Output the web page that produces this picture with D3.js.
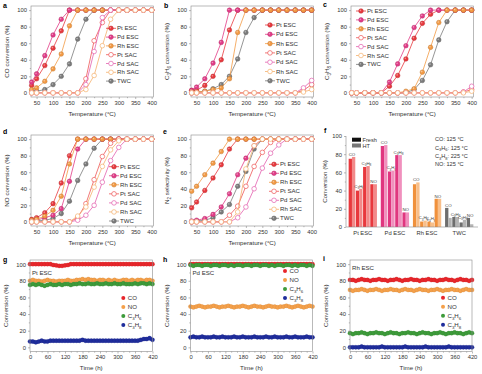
<!DOCTYPE html>
<html>
<head>
<meta charset="utf-8">
<script src="https://cdn.jsdelivr.net/npm/d3@7"></script>
<style>
body { margin: 0; background: #fff; }
svg { display: block; font-family: "Liberation Sans", Arial, sans-serif; }
</style>
</head>
<body>
<svg id="fig" width="482" height="374"></svg>
<script>
// light-off curves, temperature (°C)
var temps = [35, 50, 75, 100, 125, 150, 175, 200, 225, 250, 275, 300, 325, 350, 375, 400];

// a: CO conversion
var coPtESC  = [9, 17, 33, 54, 75, 100, 100, 100, 100, 100, 100, 100, 100, 100, 100, 100];
var coPdESC  = [13, 23, 45, 70, 89, 100, 100, 100, 100, 100, 100, 100, 100, 100, 100, 100];
var coRhESC  = [4, 6, 14, 29, 47, 81, 100, 100, 100, 100, 100, 100, 100, 100, 100, 100];
var coPtSAC  = [0, 0, 0, 0, 0, 0, 0, 17, 63, 85, 100, 100, 100, 100, 100, 100];
var coPdSAC  = [0, 0, 0, 0, 0, 0, 0, 10, 50, 91, 100, 100, 100, 100, 100, 100];
var coRhSAC  = [0, 0, 0, 0, 0, 0, 0, 4, 21, 57, 89, 100, 100, 100, 100, 100];
var coTWC    = [1, 2, 4, 10, 20, 35, 65, 89, 100, 100, 100, 100, 100, 100, 100, 100];

// b: C3H6 conversion
var c3h6PtESC = [3, 3, 9, 20, 40, 76, 100, 100, 100, 100, 100, 100, 100, 100, 100, 100];
var c3h6PdESC = [3, 7, 17, 36, 61, 100, 100, 100, 100, 100, 100, 100, 100, 100, 100, 100];
var c3h6RhESC = [1, 1, 2, 4, 6, 17, 73, 100, 100, 100, 100, 100, 100, 100, 100, 100];
var c3h6PtSAC = [0, 0, 0, 0, 0, 0, 0, 0, 0, 0, 0, 0, 0, 0, 3, 10];
var c3h6PdSAC = [0, 0, 0, 0, 0, 0, 0, 0, 0, 0, 0, 0, 0, 0, 6, 15];
var c3h6RhSAC = [0, 0, 0, 0, 0, 0, 0, 0, 0, 0, 0, 0, 0, 0, 1, 4];
var c3h6TWC   = [0, 1, 2, 5, 10, 20, 41, 73, 91, 100, 100, 100, 100, 100, 100, 100];

// c: C3H8 conversion
var c3h8PtESC = [0, 0, 0, 0, 0, 8, 21, 41, 66, 84, 95, 100, 100, 100, 100, 100];
var c3h8PdESC = [0, 0, 0, 0, 0, 13, 35, 57, 79, 93, 100, 100, 100, 100, 100, 100];
var c3h8RhESC = [0, 0, 0, 0, 0, 0, 0, 2, 5, 25, 55, 85, 100, 100, 100, 100];
var c3h8PtSAC = [0, 0, 0, 0, 0, 0, 0, 0, 0, 0, 0, 0, 0, 0, 1, 4];
var c3h8PdSAC = [0, 0, 0, 0, 0, 0, 0, 0, 0, 0, 0, 0, 0, 0, 1, 8];
var c3h8RhSAC = [0, 0, 0, 0, 0, 0, 0, 0, 0, 0, 0, 0, 0, 0, 0, 2];
var c3h8TWC   = [0, 0, 0, 0, 0, 0, 0, 0, 4, 15, 34, 64, 86, 100, 100, 100];

// d: NO conversion
var noPtESC = [3, 5, 11, 22, 47, 80, 100, 100, 100, 100, 100, 100, 100, 100, 100, 100];
var noPdESC = [1, 2, 5, 8, 16, 49, 88, 100, 100, 100, 100, 100, 100, 100, 100, 100];
var noRhESC = [2, 3, 7, 14, 31, 70, 100, 100, 100, 100, 100, 100, 100, 100, 100, 100];
var noPtSAC = [0, 0, 0, 0, 0, 0, 5, 22, 51, 79, 95, 100, 100, 100, 100, 100];
var noPdSAC = [0, 0, 0, 0, 0, 0, 2, 8, 20, 48, 74, 90, 100, 100, 100, 100];
var noRhSAC = [0, 0, 0, 0, 0, 0, 7, 18, 42, 67, 87, 98, 100, 100, 100, 100];
var noTWC   = [0, 1, 2, 4, 10, 25, 50, 70, 89, 100, 100, 100, 100, 100, 100, 100];

// e: N2 selectivity
var n2PtESC = [17, 24, 38, 53, 69, 88, 100, 100, 100, 100, 100, 100, 100, 100, 100, 100];
var n2PdESC = [1, 2, 4, 9, 18, 34, 57, 77, 92, 100, 100, 100, 100, 100, 100, 100];
var n2RhESC = [37, 43, 57, 71, 85, 100, 100, 100, 100, 100, 100, 100, 100, 100, 100, 100];
var n2PtSAC = [0, 0, 0, 0, 0, 8, 19, 43, 67, 84, 96, 100, 100, 100, 100, 100];
var n2PdSAC = [0, 0, 0, 0, 0, 0, 5, 18, 40, 65, 83, 93, 100, 100, 100, 100];
var n2RhSAC = [0, 0, 0, 0, 0, 0, 12, 64, 92, 100, 100, 100, 100, 100, 100, 100];
var n2TWC   = [0, 1, 2, 5, 12, 21, 43, 61, 88, 100, 100, 100, 100, 100, 100, 100];

// f: fresh vs hydrothermally treated
var catalysts = ["Pt ESC", "Pd ESC", "Rh ESC", "TWC"];
var gases = ["CO", "C_3H_6", "C_3H_8", "NO"];
var fresh = [[75, 40, 66, 47], [89, 61, 79, 16], [47, 6, 6, 31], [21, 11, 5, 10]];
var aged  = [[77, 42, 67, 47], [90, 62, 79, 16], [49, 7, 5, 31], [10, 11, 8, 3]];
var conditions = ["CO: 125 °C", "C_3H_6: 125 °C", "C_3H_8: 225 °C", "NO: 125 °C"];

// g-i: stability runs, time (h)
var hours = [0, 10, 20, 30, 40, 50, 60, 70, 80, 90, 100, 110, 120, 130, 140, 150, 160, 170, 180, 190, 200,
  210, 220, 230, 240, 250, 260, 270, 280, 290, 300, 310, 320, 330, 340, 350, 360, 370, 380, 390, 400, 410, 420];

var gCO   = [100,100,100,100,100,100,100,100,99,98.5, 98,98,98.5,99,100,100,100,100,100,100, 100,100,100,100,100,100,100,100,100,100, 100,100,100,100,100,100,100,100,100,100, 100,100,100];
var gNO   = [80,81,80,80,79,80,81,80,80,79, 80,80,80,81,80,80,81,81,82,81, 82,81,81,80,81,81,80,81,80,81, 80,80,81,81,80,81,80,81,81,80, 81,81,80];
var gC3H6 = [75,76,75,76,75,74,75,76,75,75, 76,75,76,76,75,76,76,77,76,76, 77,76,76,77,76,76,77,76,76,77, 76,76,77,76,76,76,77,76,77,77, 76,77,76];
var gC3H8 = [7,7,6,7,8,7,7,8,8,8, 8,8,8,8,8,8,8,8,9,8, 8,8,8,8,8,8,8,8,8,8, 8,8,8,8,8,8,8,8,9,10, 10,11,9];

var hCO   = [100,100,100,100,100,100,100,100,100,100, 100,100,100,100,100,100,100,100,100,100, 100,100,100,100,100,100,100,100,100,100, 100,100,100,100,100,100,100,100,100,100, 100,100,100];
var hNO   = [49,48,49,50,49,48,49,49,50,49, 48,49,49,50,49,48,49,49,50,49, 48,49,50,49,49,48,49,50,49,49, 48,49,49,50,49,48,49,50,49,48, 49,50,49];
var hC3H6 = [99,98,99,99,98,99,99,98,99,99, 98,99,99,98,99,98,99,99,98,99, 99,98,99,99,98,99,99,98,99,98, 99,99,98,99,99,98,99,98,99,99, 98,99,98];
var hC3H8 = [12,13,12,12,13,12,12,12,13,12, 12,13,12,12,12,13,12,12,13,12, 12,12,13,12,12,12,13,12,12,13, 12,12,12,13,12,12,13,12,12,12, 13,12,12];

var iCO   = [81,81,80,81,82,81,81,80,81,81, 82,81,81,80,81,81,82,81,80,81, 81,82,81,81,80,81,81,82,81,81, 80,81,81,82,81,81,80,81,82,81, 81,80,81];
var iNO   = [69,68,69,69,70,69,68,69,69,70, 69,68,69,69,70,69,69,68,69,70, 69,69,68,69,70,69,69,68,69,69, 70,69,68,69,69,70,69,69,68,69, 70,69,69];
var iC3H6 = [17,16,17,17,18,17,16,17,17,18, 17,17,16,17,18,17,17,16,17,17, 18,17,17,16,17,18,17,17,16,17, 17,18,17,16,17,17,18,17,17,16, 17,18,17];
var iC3H8 = [0,0,0,0,1,0,0,0,0,0, 0,1,0,0,0,0,0,0,0,1, 0,0,0,0,0,0,1,0,0,0, 0,0,0,0,1,0,0,0,0,0, 0,0,0];

var svg = d3.select("#fig");
var fs = 5.8;
var axisGrey = "#8a8a8a";

var colors = {"Pt ESC": "#e8383d", "Pd ESC": "#e23b87", "Rh ESC": "#f39a44",
  "Pt SAC": "#ee5656", "Pd SAC": "#e35fae", "Rh SAC": "#f5b06c", "TWC": "#7b7b7b"};
var legendOrder = ["Pt ESC", "Pd ESC", "Rh ESC", "Pt SAC", "Pd SAC", "Rh SAC", "TWC"];
var drawOrder = ["TWC", "Pt ESC", "Pd ESC", "Rh ESC", "Pt SAC", "Pd SAC", "Rh SAC"];

// "_x" -> subscript x
function rich(text, s, size) {
  var down = false;
  s.split(/(_.)/).forEach(function(pt) {
    if (!pt) return;
    var sub = pt[0] === "_";
    var t = text.append("tspan").text(sub ? pt[1] : pt);
    if (sub) {
      t.attr("font-size", size * 0.72);
      if (!down) { t.attr("dy", size * 0.3); down = true; }
    } else if (down) { t.attr("dy", -size * 0.3); down = false; }
  });
  return text;
}

function styleAxis(ax) {
  ax.select(".domain").remove();
  ax.selectAll(".tick line").attr("stroke", axisGrey).attr("stroke-width", 0.6);
  ax.selectAll(".tick text").attr("font-size", fs).attr("fill", "#333").attr("font-family", null);
}

function marker(g, cx, cy, name, r) {
  var c = colors[name];
  if (name.indexOf("SAC") >= 0) {
    g.append("circle").attr("cx", cx).attr("cy", cy).attr("r", r)
      .attr("fill", "#fff").attr("stroke", c).attr("stroke-width", 0.7);
  } else {
    g.append("circle").attr("cx", cx).attr("cy", cy).attr("r", r)
      .attr("fill", c).attr("stroke", d3.color(c).darker(0.6)).attr("stroke-width", 0.5);
    g.append("circle").attr("cx", cx - 0.6).attr("cy", cy - 0.6).attr("r", r * 0.35)
      .attr("fill", "#fff").attr("opacity", 0.45);
  }
}

function frame(g, px, py) {
  g.append("rect").attr("x", px[0]).attr("y", py[0])
    .attr("width", px[1] - px[0]).attr("height", py[1] - py[0])
    .attr("fill", "none").attr("stroke", axisGrey).attr("stroke-width", 0.6);
}

function yAxes(g, y, x0) {
  var ya = g.append("g").attr("transform", "translate(" + x0 + ",0)")
    .call(d3.axisLeft(y).tickValues([0, 20, 40, 60, 80, 100]).tickSize(2).tickPadding(2));
  styleAxis(ya);
  var ym = g.append("g").attr("transform", "translate(" + x0 + ",0)")
    .call(d3.axisLeft(y).tickValues([10, 30, 50, 70, 90]).tickSize(1.2).tickFormat(""));
  styleAxis(ym);
}

function ylabel(g, x, yc, s) {
  rich(g.append("text").attr("transform", "translate(" + x + "," + yc + ") rotate(-90)")
    .attr("text-anchor", "middle").attr("font-size", 6.2).attr("fill", "#333"), s, 6.2);
}

function letter(g, x, y, s) {
  g.append("text").attr("x", x).attr("y", y).attr("font-size", 7).attr("font-weight", "bold").text(s);
}

var curvePanels = [
  {id: "a", px: [31, 153.3], py: [6, 97], lx: 3, ly: 8, ylab: "CO conversion (%)",
   data: {"Pt ESC": coPtESC, "Pd ESC": coPdESC, "Rh ESC": coRhESC, "Pt SAC": coPtSAC, "Pd SAC": coPdSAC, "Rh SAC": coRhSAC, "TWC": coTWC},
   leg: [111, 28.3, 8.8]},
  {id: "b", px: [191, 313.3], py: [6, 97], lx: 164, ly: 8, ylab: "C_3H_6 conversion (%)",
   data: {"Pt ESC": c3h6PtESC, "Pd ESC": c3h6PdESC, "Rh ESC": c3h6RhESC, "Pt SAC": c3h6PtSAC, "Pd SAC": c3h6PdSAC, "Rh SAC": c3h6RhSAC, "TWC": c3h6TWC},
   leg: [270, 25, 9.3]},
  {id: "c", px: [351, 473.3], py: [6, 97], lx: 323, ly: 7, ylab: "C_3H_8 conversion (%)",
   data: {"Pt ESC": c3h8PtESC, "Pd ESC": c3h8PdESC, "Rh ESC": c3h8RhESC, "Pt SAC": c3h8PtSAC, "Pd SAC": c3h8PdSAC, "Rh SAC": c3h8RhSAC, "TWC": c3h8TWC},
   leg: [361, 11, 8.9]},
  {id: "d", px: [31, 153.3], py: [135, 226], lx: 3, ly: 133.5, ylab: "NO conversion (%)",
   data: {"Pt ESC": noPtESC, "Pd ESC": noPdESC, "Rh ESC": noRhESC, "Pt SAC": noPtSAC, "Pd SAC": noPdSAC, "Rh SAC": noRhSAC, "TWC": noTWC},
   leg: [114, 166.7, 9.05]},
  {id: "e", px: [191, 313.3], py: [135, 226], lx: 163, ly: 133.5, ylab: "N_2 selectivity (%)",
   data: {"Pt ESC": n2PtESC, "Pd ESC": n2PdESC, "Rh ESC": n2RhESC, "Pt SAC": n2PtSAC, "Pd SAC": n2PdSAC, "Rh SAC": n2RhSAC, "TWC": n2TWC},
   leg: [274, 164.3, 9]}
];

curvePanels.forEach(function(p) {
  var g = svg.append("g");
  var x = d3.scaleLinear().domain([33, 405]).range(p.px);
  var y = d3.scaleLinear().domain([-5, 105]).range([p.py[1], p.py[0]]);
  frame(g, p.px, p.py);
  yAxes(g, y, p.px[0]);
  var xa = g.append("g").attr("transform", "translate(0," + p.py[1] + ")")
    .call(d3.axisBottom(x).tickValues([50, 100, 150, 200, 250, 300, 350, 400]).tickSize(2).tickPadding(1.5));
  styleAxis(xa);
  var xm = g.append("g").attr("transform", "translate(0," + p.py[1] + ")")
    .call(d3.axisBottom(x).tickValues([75, 125, 175, 225, 275, 325, 375]).tickSize(1.2).tickFormat(""));
  styleAxis(xm);
  g.append("text").attr("x", (p.px[0] + p.px[1]) / 2).attr("y", p.py[1] + 18.5)
    .attr("text-anchor", "middle").attr("font-size", 6.2).attr("fill", "#333").text("Temperature (°C)");
  ylabel(g, p.px[0] - 22, (p.py[0] + p.py[1]) / 2, p.ylab);
  letter(g, p.lx, p.ly, p.id);

  var line = d3.line().x(function(d, i) { return x(temps[i]); }).y(function(d) { return y(d); });
  drawOrder.forEach(function(name) {
    var vals = p.data[name];
    g.append("path").attr("d", line(vals)).attr("fill", "none")
      .attr("stroke", colors[name]).attr("stroke-width", 0.8);
    vals.forEach(function(v, i) { marker(g, x(temps[i]), y(v), name, 2.3); });
  });

  var lg = g.append("g");
  legendOrder.forEach(function(name, k) {
    var cy = p.leg[1] + k * p.leg[2];
    lg.append("line").attr("x1", p.leg[0] - 5).attr("x2", p.leg[0] + 5).attr("y1", cy).attr("y2", cy)
      .attr("stroke", colors[name]).attr("stroke-width", 0.8);
    marker(lg, p.leg[0], cy, name, 2.3);
    lg.append("text").attr("x", p.leg[0] + 6).attr("y", cy + 2).attr("font-size", 6.1)
      .attr("fill", "#333").text(name);
  });
});

// panel f: bars
(function() {
  var g = svg.append("g");
  var x0 = 346, x1 = 478, yb = 227, yt = 136;
  var y = d3.scaleLinear().domain([0, 100]).range([yb, yt]);
  var xg = d3.scaleBand().domain(catalysts).range([348, 474]).paddingInner(0.12).paddingOuter(0.02);
  var xs = d3.scaleBand().domain(gases).range([0, xg.bandwidth()]).paddingInner(0.08);
  var fillFresh = {"Pt ESC": "#e8383d", "Pd ESC": "#e0367f", "Rh ESC": "#f0913c", "TWC": "#6e6e6e"};
  var fillAged = {"Pt ESC": "#f28a8a", "Pd ESC": "#f090bd", "Rh ESC": "#f8bf8a", "TWC": "#b4b4b4"};

  catalysts.forEach(function(cat, ci) {
    gases.forEach(function(gas, gi) {
      var bx = xg(cat) + xs(gas), bw = xs.bandwidth() / 2;
      g.append("rect").attr("x", bx).attr("y", y(fresh[ci][gi])).attr("width", bw)
        .attr("height", yb - y(fresh[ci][gi])).attr("fill", fillFresh[cat]);
      g.append("rect").attr("x", bx + bw).attr("y", y(aged[ci][gi])).attr("width", bw)
        .attr("height", yb - y(aged[ci][gi])).attr("fill", fillAged[cat]);
      var top = Math.max(fresh[ci][gi], aged[ci][gi]);
      rich(g.append("text").attr("x", bx + bw).attr("y", y(top) - 1.2).attr("text-anchor", "middle")
        .attr("font-size", 4.4).attr("fill", "#444"), gas, 4.4);
    });
  });

  yAxes(g, y, x0);
  g.append("line").attr("x1", x0).attr("x2", x0).attr("y1", yt).attr("y2", yb)
    .attr("stroke", axisGrey).attr("stroke-width", 0.6);
  g.append("line").attr("x1", x0).attr("x2", x1).attr("y1", yb).attr("y2", yb)
    .attr("stroke", axisGrey).attr("stroke-width", 0.6);
  var xa = g.append("g").attr("transform", "translate(0," + yb + ")")
    .call(d3.axisBottom(xg).tickSize(0).tickPadding(4));
  styleAxis(xa);
  ylabel(g, 327, (yt + yb) / 2, "Conversion (%)");
  letter(g, 324, 132.5, "f");

  g.append("rect").attr("x", 352).attr("y", 137.7).attr("width", 9).attr("height", 4).attr("fill", "#111");
  g.append("text").attr("x", 362.5).attr("y", 141.8).attr("font-size", 5.6).attr("fill", "#333").text("Fresh");
  g.append("rect").attr("x", 352).attr("y", 143.5).attr("width", 9).attr("height", 4).attr("fill", "#777");
  g.append("text").attr("x", 362.5).attr("y", 147.6).attr("font-size", 5.6).attr("fill", "#333").text("HT");
  conditions.forEach(function(s, k) {
    rich(g.append("text").attr("x", 435).attr("y", 141.3 + k * 8.3).attr("font-size", 5.6).attr("fill", "#333"), s, 5.6);
  });
})();

// panels g-i: stability
var gasColors = {"CO": "#e8262b", "NO": "#f5a04a", "C_3H_6": "#3d9b3a", "C_3H_8": "#1f2d9c"};
var timeOrder = ["CO", "NO", "C_3H_6", "C_3H_8"];
var timePanels = [
  {id: "g", px: [30, 152.5], lx: 3, ly: 261.5, cat: "Pt ESC", cy: 275, leg: [123.3, 298],
   data: {"CO": gCO, "NO": gNO, "C_3H_6": gC3H6, "C_3H_8": gC3H8}},
  {id: "h", px: [190.5, 312.5], lx: 163, ly: 261.5, cat: "Pd ESC", cy: 275, leg: [285, 271],
   data: {"CO": hCO, "NO": hNO, "C_3H_6": hC3H6, "C_3H_8": hC3H8}},
  {id: "i", px: [350, 472], lx: 323, ly: 260.5, cat: "Rh ESC", cy: 270, leg: [443, 297.7],
   data: {"CO": iCO, "NO": iNO, "C_3H_6": iC3H6, "C_3H_8": iC3H8}}
];

timePanels.forEach(function(p) {
  var g = svg.append("g");
  var py = [260, 351.5];
  var x = d3.scaleLinear().domain([0, 420]).range(p.px);
  var y = d3.scaleLinear().domain([-5, 105]).range([py[1], py[0]]);
  var band = d3.line().x(function(d, i) { return x(hours[i]); }).y(function(d) { return y(d); });
  timeOrder.forEach(function(gas) {
    var c = gasColors[gas];
    // dense measurement points merge into a band
    g.append("path").attr("d", band(p.data[gas])).attr("fill", "none")
      .attr("stroke", c).attr("stroke-width", 3.4).attr("stroke-linejoin", "round");
    p.data[gas].forEach(function(v, i) {
      g.append("circle").attr("cx", x(hours[i])).attr("cy", y(v)).attr("r", 2.1)
        .attr("fill", c).attr("stroke", d3.color(c).darker(0.4)).attr("stroke-width", 0.3);
    });
  });
  frame(g, p.px, py);
  yAxes(g, y, p.px[0]);
  var xa = g.append("g").attr("transform", "translate(0," + py[1] + ")")
    .call(d3.axisBottom(x).tickValues([0, 60, 120, 180, 240, 300, 360, 420]).tickSize(2).tickPadding(1.5));
  styleAxis(xa);
  var xm = g.append("g").attr("transform", "translate(0," + py[1] + ")")
    .call(d3.axisBottom(x).tickValues([20, 40, 80, 100, 140, 160, 200, 220, 260, 280, 320, 340, 380, 400]).tickSize(1.2).tickFormat(""));
  styleAxis(xm);
  g.append("text").attr("x", (p.px[0] + p.px[1]) / 2).attr("y", 369.5)
    .attr("text-anchor", "middle").attr("font-size", 6.2).attr("fill", "#333").text("Time (h)");
  ylabel(g, p.px[0] - 22, (py[0] + py[1]) / 2, "Conversion (%)");
  letter(g, p.lx, p.ly, p.id);
  g.append("text").attr("x", p.px[0] + 2).attr("y", p.cy).attr("font-size", 6.1).attr("fill", "#333").text(p.cat);
  timeOrder.forEach(function(gas, k) {
    var cy = p.leg[1] + k * 9;
    g.append("circle").attr("cx", p.leg[0]).attr("cy", cy).attr("r", 2).attr("fill", gasColors[gas]);
    rich(g.append("text").attr("x", p.leg[0] + 4.5).attr("y", cy + 2).attr("font-size", 6.1).attr("fill", "#333"), gas, 6.1);
  });
});
</script>
</body>
</html>
